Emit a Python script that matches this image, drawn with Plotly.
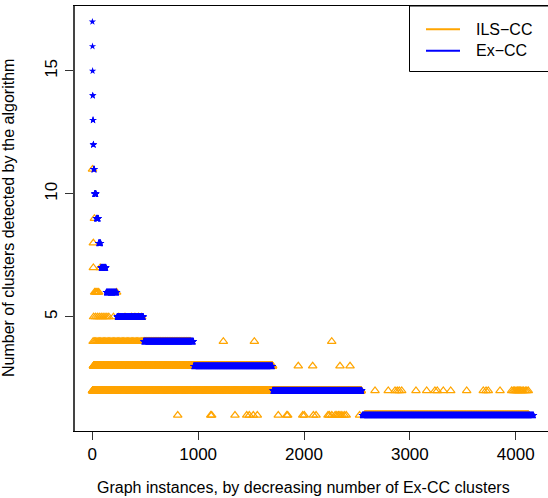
import numpy as np
import plotly.graph_objects as go

# ---------------- data ----------------
# Ex-CC: number of clusters per graph instance, instances sorted by decreasing Ex-CC
EX_CC_LEVELS = [17, 16, 15, 14, 13, 12, 11, 10, 9, 8, 7, 6, 5, 4, 3, 2, 1]
EX_CC_COUNTS = [1, 1, 1, 2, 3, 4, 7, 17, 22, 22, 50, 102, 252, 472, 747, 845, 1622]

# ILS-CC: ranges of instances where ILS-CC gives a continuous band at a level
ILS_BAND_LEVEL = [1, 2, 3, 4, 4, 5]
ILS_BAND_START = [2571, 2, 11, 8, 485, 12]
ILS_BAND_END = [4124, 2540, 1703, 480, 930, 165]
ILS_BAND_STEP = [1, 1, 1, 12, 6, 18]

# ILS-CC: isolated instances (level, instance index)
ILS_PT_LEVEL = ([11, 9, 8, 7, 7] + [6] * 6 + [5] * 7 + [4] * 3 + [3] * 4 + [1] * 26 + [2] * 30)
ILS_PT_INDEX = ([2, 20, 10, 10, 75]
                + [22, 32, 42, 52, 61, 230]
                + [200, 250, 309, 372, 403, 435, 467]
                + [1238, 1531, 2262]
                + [1946, 2082, 2340, 2435]
                + [807, 1119, 1128, 1348, 1459, 1483, 1521, 1559, 1757, 1837, 1846,
                   1988, 2003, 2089, 2114, 2227, 2240, 2263, 2294, 2310, 2326, 2340,
                   2358, 2380, 2399, 2525]
                + [2671, 2796, 2860, 2881, 2900, 2923, 3058, 3159, 3237, 3259, 3316,
                   3386, 3537, 3694, 3720, 3741, 3852, 3962, 3977, 3990, 4003, 4015,
                   4024, 4035, 4047, 4060, 4072, 4090, 4105, 4119])

X_TICKS = [0, 1000, 2000, 3000, 4000]
Y_TICKS = [5, 10, 15]
SERIES = ["ILS\u2212CC", "Ex\u2212CC"]
X_TITLE = "Graph instances, by decreasing number of Ex-CC clusters"
Y_TITLE = "Number of clusters detected by the algorithm"

# ---------------- build series ----------------
ex_y = np.repeat(EX_CC_LEVELS, EX_CC_COUNTS)
ex_x = np.arange(1, len(ex_y) + 1)

ils_x, ils_y = [], []
for lv, s, e, st in zip(ILS_BAND_LEVEL, ILS_BAND_START, ILS_BAND_END, ILS_BAND_STEP):
    xs = np.arange(s, e + 1, st)
    ils_x.extend(xs.tolist())
    ils_y.extend([lv] * len(xs))
ils_x.extend(ILS_PT_INDEX)
ils_y.extend(ILS_PT_LEVEL)

ORANGE = "#FFA500"
BLUE = "#0000FF"
FONT = "Liberation Sans, Arial, Helvetica, sans-serif"

fig = go.Figure()
fig.add_trace(go.Scatter(
    x=ils_x, y=ils_y, mode="markers", name=SERIES[0], showlegend=False,
    marker=dict(symbol="triangle-up-open", size=7.5, color=ORANGE,
                line=dict(width=1.2, color=ORANGE)),
    hoverinfo="skip"))
fig.add_trace(go.Scatter(
    x=ex_x, y=ex_y, mode="markers", name=SERIES[1], showlegend=False,
    marker=dict(symbol="star", size=5.5, color=BLUE, line=dict(width=0)),
    hoverinfo="skip"))

W, H = 548, 498
L, T, B = 75, 6, 67
PW, PH = W - L, H - T - B


def px_x(p):
    return (p - L) / PW


def px_y(p):
    return (H - B - p) / PH


fig.update_layout(
    width=W, height=H,
    margin=dict(l=L, r=0, t=T, b=B, pad=0),
    paper_bgcolor="white", plot_bgcolor="white",
    font=dict(family=FONT, color="black"),
    showlegend=False,
    xaxis=dict(range=[-163.4, 4305.2], tickvals=X_TICKS, ticks="outside", ticklen=8,
               tickcolor="#333333", showline=True, mirror=True, linecolor="black",
               linewidth=1, showgrid=False, zeroline=False,
               tickfont=dict(size=17, family=FONT)),
    yaxis=dict(range=[0.36, 17.64], tickvals=Y_TICKS, ticks="outside", ticklen=8,
               tickcolor="#333333", showline=True, mirror=False, linecolor="#444444",
               linewidth=1.5, showgrid=False, zeroline=False, tickangle=-90,
               ticklabelstandoff=1,
               tickfont=dict(size=17, family=FONT)),
)

ann = [
    dict(text=X_TITLE, x=px_x(303), y=px_y(488), xref="paper", yref="paper",
         xanchor="center", yanchor="middle", showarrow=False, font=dict(size=16, family=FONT)),
    dict(text=Y_TITLE, x=px_x(8.5), y=px_y(218.5), xref="paper", yref="paper",
         xanchor="center", yanchor="middle", textangle=-90, showarrow=False,
         font=dict(size=16, family=FONT)),
    dict(text=SERIES[0], x=px_x(474), y=px_y(29.3), xref="paper", yref="paper",
         xanchor="left", yanchor="middle", showarrow=False, font=dict(size=16, family=FONT)),
    dict(text=SERIES[1], x=px_x(474), y=px_y(50.7), xref="paper", yref="paper",
         xanchor="left", yanchor="middle", showarrow=False, font=dict(size=16, family=FONT)),
]
shapes = [
    dict(type="rect", xref="paper", yref="paper", x0=px_x(409.5), x1=px_x(560),
         y0=px_y(71.5), y1=px_y(6), line=dict(color="black", width=1), fillcolor="white",
         layer="above"),
    dict(type="line", xref="paper", yref="paper", x0=px_x(426), x1=px_x(460),
         y0=px_y(29.3), y1=px_y(29.3), line=dict(color=ORANGE, width=2)),
    dict(type="line", xref="paper", yref="paper", x0=px_x(426), x1=px_x(460),
         y0=px_y(50.7), y1=px_y(50.7), line=dict(color=BLUE, width=2)),
]
fig.update_layout(annotations=ann, shapes=shapes)

fig.write_html("out.html", config=dict(displayModeBar=False),
               post_script="document.body.style.margin='0';document.body.style.overflow='hidden';")
